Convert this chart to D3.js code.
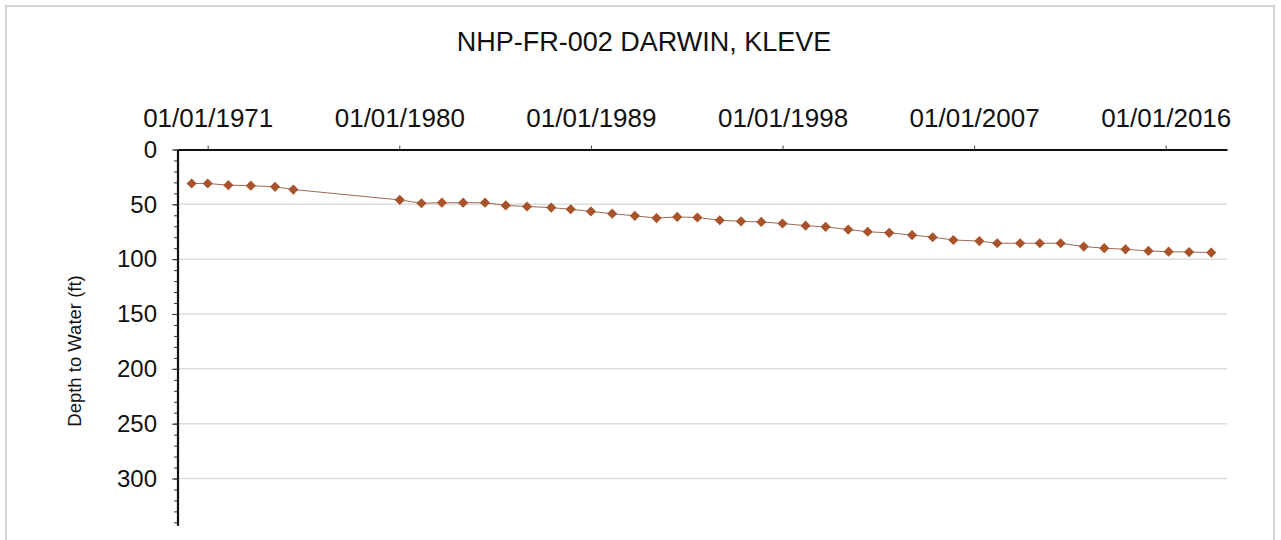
<!DOCTYPE html>
<html><head><meta charset="utf-8">
<script src="https://cdn.jsdelivr.net/npm/d3@7"></script>
<style>
html,body{margin:0;padding:0;background:#fff;}
svg{display:block;font-family:"Liberation Sans",Arial,sans-serif;}
</style></head>
<body>
<svg id="chart" width="1281" height="540"></svg>
<script>
const title = "NHP-FR-002 DARWIN, KLEVE";
const yTitle = "Depth to Water (ft)";
const dates = ["1970-04-01","1971-01-01","1971-12-20","1973-01-10","1974-03-01","1975-01-10",
 "1980-01-10","1981-01-15","1982-01-01","1983-01-01","1984-01-10","1985-01-01","1986-01-01","1987-02-20","1988-01-20","1989-01-01",
 "1990-01-01","1991-01-25","1992-02-01","1993-01-20","1994-01-01","1995-01-20","1996-01-20","1997-01-01","1998-01-01",
 "1999-02-01","2000-01-10","2001-02-01","2002-01-01","2003-01-05","2004-02-01","2005-01-20","2006-01-10","2007-04-01","2008-02-01",
 "2009-03-01","2010-02-01","2011-01-25","2012-02-25","2013-02-10","2014-02-10","2015-03-10","2016-02-20","2017-02-05","2018-02-20"];
const depths = [31,31,32.5,33,34,36.5,
 46,49,48.5,48.5,48.5,51,52,53,54.5,56.5,
 58.5,60.5,62.5,61.5,62,64.5,65.5,66,67.5,
 69.5,70.5,73,75,76,78,80,82.5,83.5,85.5,
 85.5,85.5,85.5,88.5,90,91,92.5,93.2,93.5,94];
const xTickDates = ["1971-01-01","1980-01-01","1989-01-01","1998-01-01","2007-01-01","2016-01-01"];
const yTicks = [0,50,100,150,200,250,300];
const yMax = 343;

const svg = d3.select("#chart");
const L = 178, R = 1227, T = 149.5;
const parse = d3.utcParse("%Y-%m-%d");
const fmt = d3.utcFormat("%m/%d/%Y");

// frame
svg.append("rect").attr("x",6).attr("y",6).attr("width",1268).attr("height",560)
  .attr("fill","none").attr("stroke","#d4d4d4").attr("stroke-width",2);

// x scale anchored on two labelled ticks
const x0 = d3.scaleUtc().domain([parse(xTickDates[0]), parse(xTickDates[5])]).range([207.7,1165.7]);
const x = d3.scaleUtc().domain([x0.invert(L), x0.invert(R)]).range([L,R]);
const y = d3.scaleLinear().domain([0,300]).range([T, 478.5]);
const B = y(yMax);

// gridlines
svg.append("g").selectAll("line").data(yTicks.filter(d=>d>0)).join("line")
  .attr("x1",L).attr("x2",R).attr("y1",d=>y(d)).attr("y2",d=>y(d))
  .attr("stroke","#dcdcdc").attr("stroke-width",1.5);

// top axis
const xAxis = d3.axisTop(x).tickValues(xTickDates.map(parse)).tickFormat(fmt).tickSize(4).tickSizeOuter(0);
const gx = svg.append("g").attr("transform",`translate(0,${T})`).call(xAxis);
gx.select(".domain").attr("stroke","#111").attr("stroke-width",2.2);
gx.selectAll(".tick line").attr("stroke","#444").attr("stroke-width",1);
gx.selectAll(".tick text").attr("font-size",26).attr("fill","#111").attr("dy",-16)
  .attr("font-family","Liberation Sans, Arial, sans-serif");

// left axis with minor ticks
const yAxisMinor = d3.axisLeft(y).tickValues(d3.range(0, 341, 10)).tickFormat("").tickSize(4).tickSizeOuter(0);
const gym = svg.append("g").attr("transform",`translate(${L},0)`).call(yAxisMinor);
gym.select(".domain").remove();
gym.selectAll(".tick line").attr("stroke","#333").attr("stroke-width",1);
const yAxis = d3.axisLeft(y).tickValues(yTicks).tickSize(6).tickSizeOuter(0).tickPadding(15);
const gy = svg.append("g").attr("transform",`translate(${L},0)`).call(yAxis);
gy.select(".domain").attr("d",`M0,${T}V${B}`).attr("stroke","#111").attr("stroke-width",2.2);
gy.selectAll(".tick line").attr("stroke","#333").attr("stroke-width",1);
gy.selectAll(".tick text").attr("font-size",24).attr("fill","#111")
  .attr("font-family","Liberation Sans, Arial, sans-serif");

// titles
svg.append("text").attr("x",644).attr("y",51).attr("text-anchor","middle")
  .attr("font-size",27).attr("fill","#111").text(title);
svg.append("text").attr("transform",`translate(81,351) rotate(-90)`).attr("text-anchor","middle")
  .attr("font-size",18.5).attr("fill","#111").text(yTitle);

// data
const data = dates.map((d,i)=>({date:parse(d), v:depths[i]}));
svg.append("path").datum(data).attr("fill","none").attr("stroke","#9c6b58").attr("stroke-width",1)
  .attr("d", d3.line().x(d=>x(d.date)).y(d=>y(d.v)));
svg.append("g").selectAll("path").data(data).join("path")
  .attr("transform",d=>`translate(${x(d.date)},${y(d.v)}) rotate(45)`)
  .attr("d", d3.symbol(d3.symbolSquare, 52))
  .attr("fill","#a8532b");
</script>
</body></html>
